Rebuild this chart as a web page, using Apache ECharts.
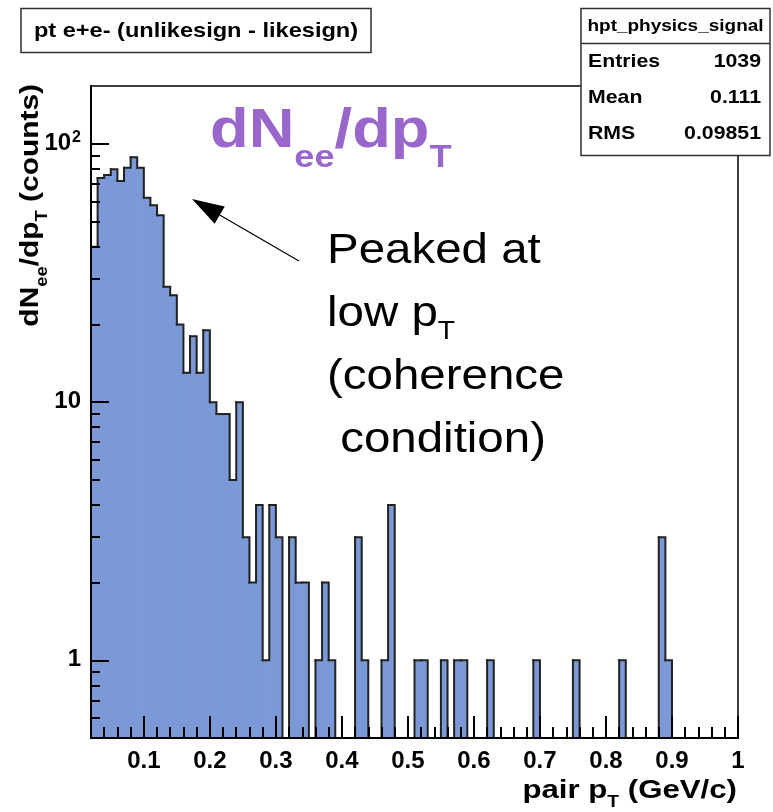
<!DOCTYPE html>
<html>
<head>
<meta charset="utf-8">
<title>pt e+e- (unlikesign - likesign)</title>
<script src="https://cdn.jsdelivr.net/npm/echarts@6/dist/echarts.min.js"></script>
<style>
  html, body { margin: 0; padding: 0; background: #fff; }
  #chart { width: 773px; height: 812px; }
</style>
</head>
<body>
<div id="chart"></div>
<script>
// pair pT histogram, bins of 0.01 GeV/c starting at 0.02
const BIN_START = 0.02;
const BIN_WIDTH = 0.01;
const counts = [
  40, 74, 76, 80, 72, 81, 89, 81, 62, 58,   // 0.02 - 0.11
  53, 28, 26, 20, 13, 18, 13, 19, 10, 9,    // 0.12 - 0.21
  9, 5, 10, 3, 2, 4, 1, 4, 3, 0,            // 0.22 - 0.31
  3, 2, 2, 0, 1, 2, 1, 0, 0, 0,             // 0.32 - 0.41
  3, 1, 0, 0, 1, 4, 0, 0, 0, 1,             // 0.42 - 0.51
  1, 0, 0, 1, 0, 1, 1, 0, 0, 0,             // 0.52 - 0.61
  1, 0, 0, 0, 0, 0, 0, 1, 0, 0,             // 0.62 - 0.71
  0, 0, 0, 1, 0, 0, 0, 0, 0, 0,             // 0.72 - 0.81
  1, 0, 0, 0, 0, 0, 3, 1, 0, 0,             // 0.82 - 0.91
  0, 0, 0, 0, 0, 0, 0, 0                    // 0.92 - 0.99
];
const xLabelTicks = [0.1, 0.2, 0.3, 0.4, 0.5, 0.6, 0.7, 0.8, 0.9, 1];
const yLabelTicks = [1, 10, 100];
const statsTitle = 'hpt_physics_signal';
const statsRows = [['Entries', '1039'], ['Mean', '0.111'], ['RMS', '0.09851']];
// rich text, {s|..} is a subscript
const peakNote = ['{m|Peaked at}', '{m|low p}{s|T}', '{m|(coherence}', '{m| condition)}'];

const X_MIN = 0.02, X_MAX = 1.0;
const Y_MIN = 0.5, Y_MAX = 168;

const FONT = "'Liberation Sans', Arial, Helvetica, sans-serif";
const FILL = '#7a99d6';
const STRETCH = 1.15; // the titles in the original are a bit wide

// minor ticks (ROOT style)
const xMinorTicks = [];
for (let k = 4; k < 100; k += 2) {
  if (k % 10) xMinorTicks.push(k / 100);
}
const yMinorTicks = [];
[0.1, 1, 10].forEach(d => {
  for (let m = 2; m <= 9; m++) {
    const v = +(d * m).toPrecision(2);
    if (v > Y_MIN && v < Y_MAX) yMinorTicks.push(v);
  }
});

const binData = counts.map((c, i) => [
  +(BIN_START + i * BIN_WIDTH).toFixed(2),
  +(BIN_START + (i + 1) * BIN_WIDTH).toFixed(2),
  c,
  i + 1 < counts.length ? counts[i + 1] : 0
]);

function renderBin(params, api) {
  const lo = api.value(0), hi = api.value(1);
  const c = api.value(2), next = api.value(3);
  const level = v => (v > 0 ? v : Y_MIN);
  const p0 = api.coord([lo, level(c)]);
  const p1 = api.coord([hi, level(c)]);
  const pn = api.coord([hi, level(next)]);
  const base = api.coord([lo, Y_MIN]);
  const children = [];
  if (c > 0) {
    children.push({
      type: 'rect',
      shape: { x: p0[0], y: p0[1], width: p1[0] - p0[0] + 0.6, height: base[1] - p0[1] },
      style: { fill: FILL }
    });
  }
  const pts = [p0, p1, pn];
  if (params.dataIndex === 0) pts.unshift(base);
  children.push({
    type: 'polyline',
    shape: { points: pts },
    style: { stroke: '#222', lineWidth: 2, fill: null, lineCap: 'square' },
    z2: 5
  });
  return { type: 'group', children };
}

const labelStyle = { color: '#000', fontFamily: FONT, fontWeight: 'bold', fontSize: 24 };
const tickLine = { color: '#000', width: 2 };

// annotation arrow
const arrowTail = [299, 261];
const arrowTip = [192, 199];
const headLen = 32, headHalf = 10;
const dx = arrowTip[0] - arrowTail[0], dy = arrowTip[1] - arrowTail[1];
const dl = Math.hypot(dx, dy), ux = dx / dl, uy = dy / dl;
const bx = arrowTip[0] - headLen * ux, by = arrowTip[1] - headLen * uy;

const graphics = [
  // title box
  { type: 'rect', shape: { x: 21, y: 8.5, width: 350, height: 44 },
    style: { fill: '#fff', stroke: '#333', lineWidth: 1.5 }, z: 100 },
  { type: 'text', x: 196, y: 31, scaleX: STRETCH, z: 101,
    style: { text: 'pt e+e- (unlikesign - likesign)', font: 'bold 20.5px ' + FONT,
      fill: '#000', align: 'center', verticalAlign: 'middle' } },
  // stats box
  { type: 'rect', shape: { x: 581, y: 8.5, width: 189, height: 147 },
    style: { fill: '#fff', stroke: '#333', lineWidth: 1.5 }, z: 100 },
  { type: 'line', shape: { x1: 581, y1: 43.5, x2: 770, y2: 43.5 },
    style: { stroke: '#333', lineWidth: 1.5 }, z: 101 },
  { type: 'text', x: 675.5, y: 26, scaleX: STRETCH, z: 101,
    style: { text: statsTitle, font: 'bold 16.5px ' + FONT, fill: '#000',
      align: 'center', verticalAlign: 'middle' } }
];
statsRows.forEach((row, i) => {
  const y = 61.5 + i * 36;
  graphics.push(
    { type: 'text', x: 588, y, scaleX: STRETCH, z: 101,
      style: { text: row[0], font: 'bold 18.5px ' + FONT, fill: '#000', align: 'left', verticalAlign: 'middle' } },
    { type: 'text', x: 761, y, scaleX: STRETCH, z: 101,
      style: { text: row[1], font: 'bold 18.5px ' + FONT, fill: '#000', align: 'right', verticalAlign: 'middle' } }
  );
});
// big purple label
graphics.push({
  type: 'text', x: 210, y: 104, scaleX: 1.13, z: 101,
  style: {
    text: '{m|dN}{s|ee}{m|/dp}{s|T}', fill: '#9966cc',
    rich: {
      m: { fontSize: 56, fontWeight: 'bold', fontFamily: FONT, fill: '#9966cc', lineHeight: 56, verticalAlign: 'top' },
      s: { fontSize: 32, fontWeight: 'bold', fontFamily: FONT, fill: '#9966cc', lineHeight: 32, verticalAlign: 'top', padding: [38, 0, 0, 0] }
    }
  }
});
// note text
peakNote.forEach((line, i) => {
  graphics.push({
    type: 'text', x: 327, y: 230 + i * 63, scaleX: 1.13, z: 101,
    style: {
      text: line, fill: '#000',
      rich: {
        m: { fontSize: 42, fontFamily: FONT, fill: '#000', lineHeight: 44, verticalAlign: 'top' },
        s: { fontSize: 25, fontFamily: FONT, fill: '#000', lineHeight: 25, verticalAlign: 'top', padding: [27, 0, 0, 0] }
      }
    }
  });
});
// arrow
graphics.push(
  { type: 'line', shape: { x1: arrowTail[0], y1: arrowTail[1], x2: bx, y2: by },
    style: { stroke: '#000', lineWidth: 1.2 }, z: 101 },
  { type: 'polygon', z: 101,
    shape: { points: [arrowTip,
      [bx - headHalf * uy, by + headHalf * ux],
      [bx + headHalf * uy, by - headHalf * ux]] },
    style: { fill: '#000' } }
);
// axis titles
graphics.push(
  { type: 'text', x: 737, y: 778, scaleX: 1.2, z: 101,
    style: {
      text: '{m|pair p}{s|T}{m| (GeV/c)}', align: 'right', fill: '#000',
      rich: {
        m: { fontSize: 26, fontWeight: 'bold', fontFamily: FONT, fill: '#000', lineHeight: 28, verticalAlign: 'top' },
        s: { fontSize: 16, fontWeight: 'bold', fontFamily: FONT, fill: '#000', lineHeight: 16, verticalAlign: 'top', padding: [17, 0, 0, 0] }
      }
    } },
  { type: 'text', x: 18, y: 84, rotation: Math.PI / 2, scaleX: STRETCH, z: 101,
    style: {
      text: '{m|dN}{s|ee}{m|/dp}{s|T}{m| (counts)}', align: 'right', fill: '#000',
      rich: {
        m: { fontSize: 26, fontWeight: 'bold', fontFamily: FONT, fill: '#000', lineHeight: 28, verticalAlign: 'top' },
        s: { fontSize: 16, fontWeight: 'bold', fontFamily: FONT, fill: '#000', lineHeight: 16, verticalAlign: 'top', padding: [17, 0, 0, 0] }
      }
    } }
);

const chart = echarts.init(document.getElementById('chart'));
chart.setOption({
  animation: false,
  backgroundColor: '#fff',
  grid: {
    left: 91, top: 86, width: 647, height: 652,
    show: true, borderColor: '#000', borderWidth: 1.5, backgroundColor: 'transparent'
  },
  xAxis: [
    {
      type: 'value', min: X_MIN, max: X_MAX, position: 'bottom', z: 10,
      axisLine: { show: true, onZero: false, lineStyle: tickLine },
      axisTick: { show: true, inside: true, length: 22, customValues: xLabelTicks, lineStyle: tickLine },
      axisLabel: { customValues: xLabelTicks, margin: 11, ...labelStyle, formatter: v => String(v) },
      splitLine: { show: false }
    },
    {
      type: 'value', min: X_MIN, max: X_MAX, position: 'bottom', z: 10,
      axisLine: { show: false, onZero: false },
      axisTick: { show: true, inside: true, length: 11, customValues: xMinorTicks, lineStyle: tickLine },
      axisLabel: { show: false },
      splitLine: { show: false }
    }
  ],
  yAxis: [
    {
      type: 'log', logBase: 10, min: Y_MIN, max: Y_MAX, position: 'left', z: 10,
      axisLine: { show: true, onZero: false, lineStyle: tickLine },
      axisTick: { show: true, inside: true, length: 18, customValues: yLabelTicks, lineStyle: tickLine },
      axisLabel: {
        customValues: yLabelTicks, margin: 10,
        formatter: v => (v === 100 ? '{b|10}{sup|2}' : '{b|' + v + '}'),
        rich: {
          b: { ...labelStyle, lineHeight: 26, verticalAlign: 'top' },
          sup: { color: '#000', fontFamily: FONT, fontWeight: 'bold', fontSize: 16, lineHeight: 16, verticalAlign: 'top', padding: [-2, 0, 0, 1] }
        }
      },
      splitLine: { show: false }
    },
    {
      type: 'log', logBase: 10, min: Y_MIN, max: Y_MAX, position: 'left', z: 10,
      axisLine: { show: false, onZero: false },
      axisTick: { show: true, inside: true, length: 9, customValues: yMinorTicks, lineStyle: tickLine },
      axisLabel: { show: false },
      splitLine: { show: false }
    }
  ],
  graphic: graphics,
  series: [{
    type: 'custom',
    name: 'hpt_physics_signal',
    xAxisIndex: 0,
    yAxisIndex: 0,
    dimensions: ['lo', 'hi', 'count', 'next'],
    encode: { x: [0, 1], y: 2 },
    renderItem: renderBin,
    data: binData,
    z: 2
  }]
});
</script>
</body>
</html>
